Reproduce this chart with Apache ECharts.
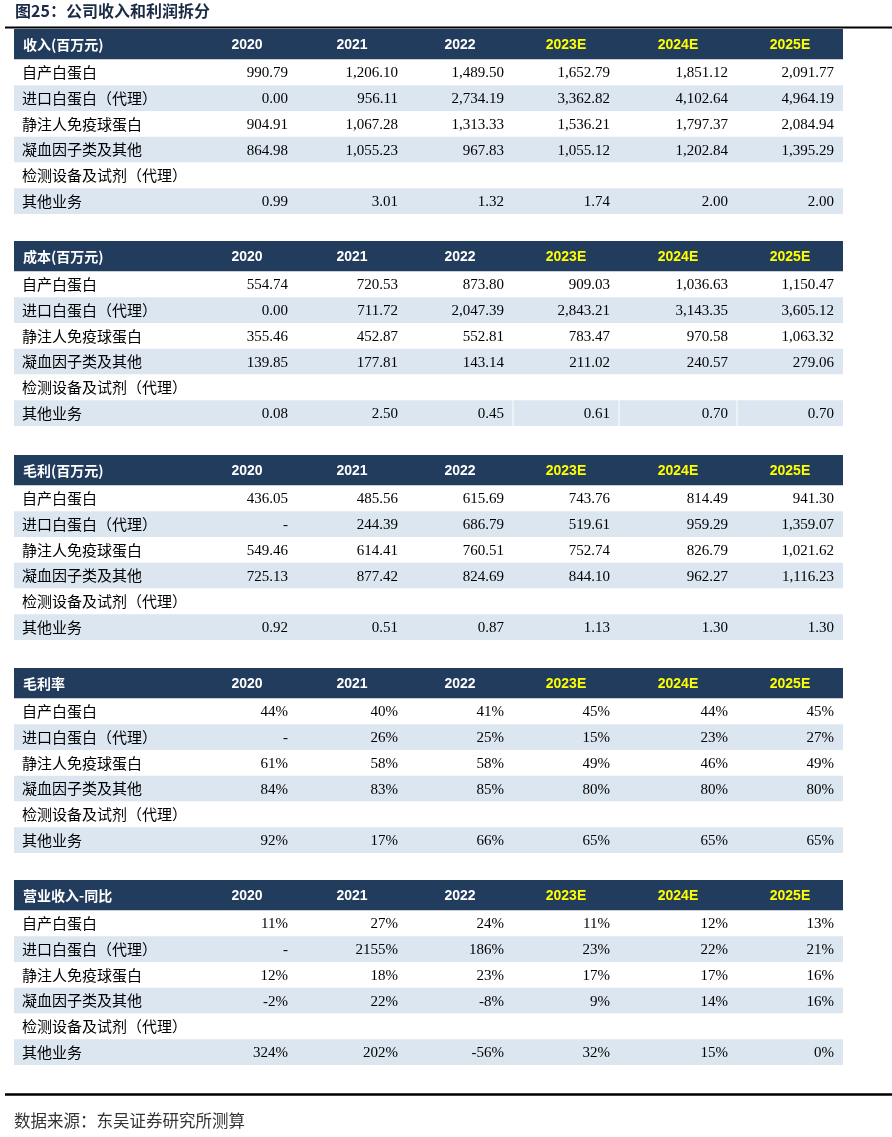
<!DOCTYPE html>
<html>
<head>
<meta charset="utf-8">
<script src="https://cdn.jsdelivr.net/npm/echarts@6/dist/echarts.min.js"></script>
<style>
  html, body { margin: 0; padding: 0; background: #fff; }
  #chart { width: 892px; height: 1137px; }
</style>
</head>
<body>
<div id="chart"></div>
<script>
// 表头与行名
const tableTitles = ["收入(百万元)", "成本(百万元)", "毛利(百万元)", "毛利率", "营业收入-同比"];
const years = ["2020", "2021", "2022", "2023E", "2024E", "2025E"];
const forecastYears = ["2023E", "2024E", "2025E"];
const rowLabels = ["自产白蛋白", "进口白蛋白（代理）", "静注人免疫球蛋白", "凝血因子类及其他", "检测设备及试剂（代理）", "其他业务"];

// 收入（百万元）
const revenue = [
  [990.79, 1206.10, 1489.50, 1652.79, 1851.12, 2091.77],
  [0.00, 956.11, 2734.19, 3362.82, 4102.64, 4964.19],
  [904.91, 1067.28, 1313.33, 1536.21, 1797.37, 2084.94],
  [864.98, 1055.23, 967.83, 1055.12, 1202.84, 1395.29],
  null,
  [0.99, 3.01, 1.32, 1.74, 2.00, 2.00]
];
// 成本（百万元）
const cost = [
  [554.74, 720.53, 873.80, 909.03, 1036.63, 1150.47],
  [0.00, 711.72, 2047.39, 2843.21, 3143.35, 3605.12],
  [355.46, 452.87, 552.81, 783.47, 970.58, 1063.32],
  [139.85, 177.81, 143.14, 211.02, 240.57, 279.06],
  null,
  [0.08, 2.50, 0.45, 0.61, 0.70, 0.70]
];
// 毛利（百万元）
const grossProfit = [
  [436.05, 485.56, 615.69, 743.76, 814.49, 941.30],
  [null, 244.39, 686.79, 519.61, 959.29, 1359.07],
  [549.46, 614.41, 760.51, 752.74, 826.79, 1021.62],
  [725.13, 877.42, 824.69, 844.10, 962.27, 1116.23],
  null,
  [0.92, 0.51, 0.87, 1.13, 1.30, 1.30]
];
// 毛利率（%）
const grossMargin = [
  [44, 40, 41, 45, 44, 45],
  [null, 26, 25, 15, 23, 27],
  [61, 58, 58, 49, 46, 49],
  [84, 83, 85, 80, 80, 80],
  null,
  [92, 17, 66, 65, 65, 65]
];
// 营业收入同比（%）
const revenueYoY = [
  [11, 27, 24, 11, 12, 13],
  [null, 2155, 186, 23, 22, 21],
  [12, 18, 23, 17, 17, 16],
  [-2, 22, -8, 9, 14, 16],
  null,
  [324, 202, -56, 32, 15, 0]
];

const tables = [revenue, cost, grossProfit, grossMargin, revenueYoY];
const isPercent = [false, false, false, true, true];

// 版式
const TABLE_LEFT = 14;
const TABLE_W = 829;
const colEdges = [0, 183, 283, 393, 499, 605, 723, 829];
const HEAD = 30.5 / 25.8;      // 表头高度（以行高为单位）
const tableTops = [29, 241, 455, 668, 880];
const tableH = 185;

const NAVY = "#223C5E";
const STRIPE = "#DCE6F1";

function fmt(v, pct) {
  if (v === null || v === undefined) return "-";
  if (pct) return v + "%";
  return v.toLocaleString("en-US", { minimumFractionDigits: 2, maximumFractionDigits: 2 });
}

function makeRender(t) {
  return function (params, api) {
    const r = api.value(1);
    const p0 = api.coord([0, r < 0 ? -HEAD : r]);
    const p1 = api.coord([TABLE_W, r < 0 ? 0 : r + 1]);
    const cy = (p0[1] + p1[1]) / 2;
    const fill = r < 0 ? NAVY : (r % 2 === 1 ? STRIPE : "#fff");
    const children = [{
      type: "rect",
      shape: { x: p0[0], y: p0[1], width: p1[0] - p0[0], height: p1[1] - p0[1] },
      style: { fill: fill }
    }];
    if (r < 0) {
      children.push({
        type: "text",
        style: {
          x: api.coord([9, 0])[0], y: cy, text: tableTitles[t],
          fill: "#fff", font: "bold 14px 'Noto Sans CJK SC'",
          align: "left", verticalAlign: "middle"
        }
      });
      years.forEach(function (y, k) {
        const cx = api.coord([(colEdges[k + 1] + colEdges[k + 2]) / 2, 0])[0];
        children.push({
          type: "text",
          style: {
            x: cx, y: cy + 1, text: y,
            fill: forecastYears.indexOf(y) >= 0 ? "#FFFF00" : "#fff",
            font: "bold 14px 'Liberation Sans'",
            align: "center", verticalAlign: "middle"
          }
        });
      });
    } else {
      children.push({
        type: "text",
        style: {
          x: api.coord([8, 0])[0], y: cy, text: rowLabels[r],
          fill: "#000", font: "15px 'Noto Sans CJK SC'",
          align: "left", verticalAlign: "middle"
        }
      });
      const row = tables[t][r];
      if (row) {
        row.forEach(function (v, k) {
          const rx = api.coord([colEdges[k + 2] - 9, 0])[0];
          children.push({
            type: "text",
            style: {
              x: rx, y: cy + 1, text: fmt(v, isPercent[t]),
              fill: "#000", font: "15px 'Liberation Serif'",
              align: "right", verticalAlign: "middle"
            }
          });
        });
      }
      // 成本表“其他业务”行的单元格白色分隔线
      if (t === 1 && r === 5) {
        [4, 5, 6].forEach(function (c) {
          const x = api.coord([colEdges[c], 0])[0];
          children.push({
            type: "line",
            shape: { x1: x, y1: p0[1], x2: x, y2: p1[1] },
            style: { stroke: "#fff", lineWidth: 1 }
          });
        });
      }
    }
    return { type: "group", children: children };
  };
}

const chart = echarts.init(document.getElementById("chart"));

const grid = [], xAxis = [], yAxis = [], series = [];
tables.forEach(function (tb, t) {
  grid.push({ left: TABLE_LEFT, width: TABLE_W, top: tableTops[t], height: tableH });
  xAxis.push({ gridIndex: t, type: "value", min: 0, max: TABLE_W, show: false });
  yAxis.push({ gridIndex: t, type: "value", inverse: true, min: -HEAD, max: 6, show: false });
  series.push({
    type: "custom",
    xAxisIndex: t,
    yAxisIndex: t,
    encode: { x: 0, y: 1 },
    data: [-1, 0, 1, 2, 3, 4, 5].map(function (r) { return [0, r]; }),
    renderItem: makeRender(t),
    silent: true
  });
});

const option = {
  backgroundColor: "#fff",
  animation: false,
  title: [
    {
      text: "图25：公司收入和利润拆分",
      left: 15, top: 3, padding: 0,
      textStyle: { fontSize: 16, fontWeight: "bold", color: "#1B2B47", fontFamily: "Noto Sans CJK SC" }
    },
    {
      text: "数据来源：东吴证券研究所测算",
      left: 14, top: 1112, padding: 0,
      textStyle: { fontSize: 16.5, fontWeight: "normal", color: "#333", fontFamily: "Noto Sans CJK SC" }
    }
  ],
  graphic: [
    { type: "line", shape: { x1: 5, y1: 27.5, x2: 892, y2: 27.5 }, style: { stroke: "#000", lineWidth: 2 } },
    { type: "line", shape: { x1: 5, y1: 1094.5, x2: 892, y2: 1094.5 }, style: { stroke: "#000", lineWidth: 2.5 } }
  ],
  grid: grid,
  xAxis: xAxis,
  yAxis: yAxis,
  series: series
};

chart.setOption(option);
</script>
</body>
</html>
